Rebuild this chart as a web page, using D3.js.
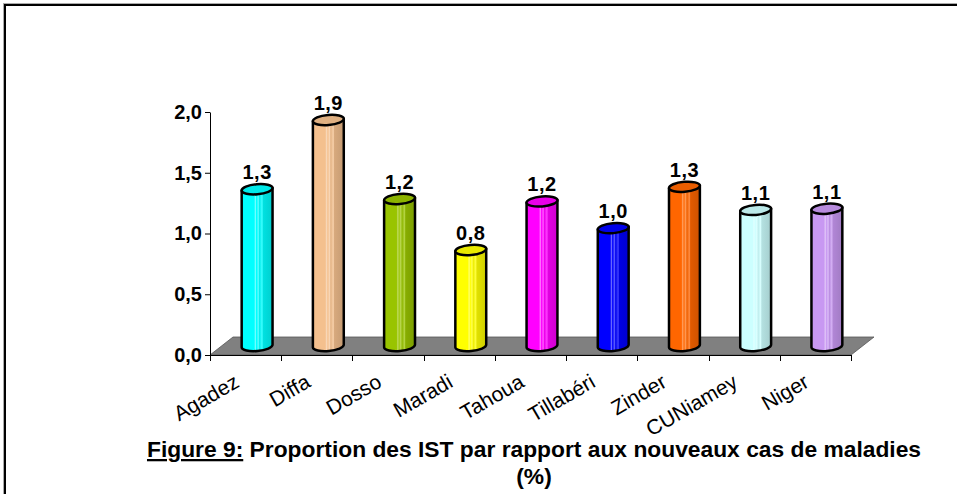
<!DOCTYPE html>
<html>
<head>
<meta charset="utf-8">
<script src="https://cdn.jsdelivr.net/npm/d3@7"></script>
<style>
  body { margin: 0; background: #fff; }
  text { font-family: Arial, "Liberation Sans", sans-serif; }
</style>
</head>
<body>
<div id="chart"></div>
<script>
// data
const regions = ["Agadez", "Diffa", "Dosso", "Maradi", "Tahoua", "Tillabéri", "Zinder", "CUNiamey", "Niger"];
const proportions = [1.29, 1.86, 1.21, 0.79, 1.19, 0.97, 1.31, 1.12, 1.13];
const yTicks = [0, 0.5, 1, 1.5, 2];
const barColors = ["#00ffff", "#f4c08e", "#99c400", "#ffff00", "#ff00ff", "#0000ff", "#ff6600", "#ccffff", "#c898f2"];

function chart() {
    const W = 957, H = 494;
    const svg = d3.select("#chart").append("svg")
        .attr("width", W)
        .attr("height", H);

    // frame
    svg.append("rect")
        .attr("x", 3.5).attr("y", 3.5)
        .attr("width", 1000).attr("height", 1000)
        .attr("fill", "none").attr("stroke", "#aaa").attr("stroke-width", 1);
    svg.append("rect")
        .attr("x", 5).attr("y", 5)
        .attr("width", 1000).attr("height", 1000)
        .attr("fill", "none").attr("stroke", "#000").attr("stroke-width", 2);

    const x = d3.scaleBand().domain(regions).range([210, 851]).padding(0);
    const y = d3.scaleLinear().domain([0, 2]).range([355, 112]);
    const depth = {dx: 23, dy: -18};
    const rx = 15.5, ry = 5, tilt = -5;
    const comma = v => d3.format(".1f")(v).replace(".", ",");

    const defs = svg.append("defs");
    barColors.forEach(function(c, i) {
        const base = d3.color(c);
        const light = d3.interpolateRgb(c, "#fff");
        const g = defs.append("linearGradient")
            .attr("id", "cyl" + i)
            .attr("x1", 0).attr("x2", 1).attr("y1", 0).attr("y2", 0);
        const stops = [
            [0, base],
            [0.4, base],
            [0.45, light(0.45)],
            [0.48, base],
            [0.54, light(0.35)],
            [0.58, base.darker(0.2)],
            [0.66, light(0.25)],
            [0.7, base.darker(0.35)],
            [1, base.darker(0.6)]
        ];
        stops.forEach(s => g.append("stop")
            .attr("offset", s[0])
            .attr("stop-color", s[1].toString()));
    });

    // floor
    const x0 = x.range()[0], x1 = x.range()[1], y0 = y(0);
    svg.append("polygon")
        .attr("points", [
            [x0, y0], [x1, y0], [x1 + depth.dx, y0 + depth.dy], [x0 + depth.dx, y0 + depth.dy]
        ].map(p => p.join(",")).join(" "))
        .attr("fill", "#808080")
        .attr("stroke", "#555")
        .attr("stroke-width", 0.8);

    // axes
    const axisY = d3.axisLeft(y).tickValues(yTicks).tickFormat(comma).tickSize(5).tickSizeOuter(0);
    const gy = svg.append("g")
        .attr("transform", `translate(${x0},0)`)
        .call(axisY);
    gy.select(".domain").attr("stroke", "#000");
    gy.selectAll("text")
        .attr("font-size", 20)
        .attr("font-weight", "bold")
        .attr("fill", "#000")
        .attr("x", -8)
        .attr("font-family", "Arial, 'Liberation Sans', sans-serif");

    const gx = svg.append("g");
    gx.append("line")
        .attr("x1", x0).attr("x2", x1)
        .attr("y1", y0 + 0.5).attr("y2", y0 + 0.5)
        .attr("stroke", "#000");
    const bounds = regions.map(r => x(r)).concat([x1]);
    gx.selectAll("line.tick")
        .data(bounds)
        .join("line")
        .attr("class", "tick")
        .attr("x1", d => Math.round(d) + 0.5).attr("x2", d => Math.round(d) + 0.5)
        .attr("y1", y0).attr("y2", y0 + 6)
        .attr("stroke", "#000");

    gx.selectAll("text.cat")
        .data(regions)
        .join("text")
        .attr("class", "cat")
        .attr("transform", d => `translate(${x(d) + x.bandwidth() / 2 - 5},${y0 + 31}) rotate(-30)`)
        .attr("text-anchor", "end")
        .attr("font-size", 21)
        .attr("fill", "#000")
        .text(d => d);

    // cylinders
    const ca = Math.cos(tilt * Math.PI / 180), sa = Math.sin(tilt * Math.PI / 180);
    const ex = rx * ca, ey = rx * sa;
    const bars = svg.append("g");
    regions.forEach(function(r, i) {
        const v = proportions[i];
        const cx = x(r) + x.bandwidth() / 2 + depth.dx / 2;
        const yb = y(0) + depth.dy / 2;
        const yt = y(v) + depth.dy / 2;
        const g = bars.append("g");
        const body = `M${cx - ex},${yt - ey} L${cx - ex},${yb - ey} ` +
            `A${rx},${ry} ${tilt} 0 0 ${cx + ex},${yb + ey} ` +
            `L${cx + ex},${yt + ey} Z`;
        g.append("path")
            .attr("d", body)
            .attr("fill", `url(#cyl${i})`)
            .attr("stroke", "#000")
            .attr("stroke-width", 2.5)
            .attr("stroke-linejoin", "round");
        g.append("ellipse")
            .attr("cx", cx).attr("cy", yt)
            .attr("rx", rx).attr("ry", ry)
            .attr("transform", `rotate(${tilt},${cx},${yt})`)
            .attr("fill", d3.color(barColors[i]).darker(0.25))
            .attr("stroke", "#000")
            .attr("stroke-width", 2.5);
        g.append("text")
            .attr("x", cx)
            .attr("y", yt - 10)
            .attr("text-anchor", "middle")
            .attr("font-size", 20)
            .attr("font-weight", "bold")
            .attr("letter-spacing", 0.5)
            .attr("fill", "#000")
            .text(comma(v));
    });

    // caption
    const cap = svg.append("text")
        .attr("x", 534)
        .attr("y", 457)
        .attr("text-anchor", "middle")
        .attr("font-size", 22.8)
        .attr("font-weight", "bold")
        .attr("fill", "#000");
    cap.append("tspan").attr("text-decoration", "underline").text("Figure 9:");
    cap.append("tspan").text(" Proportion des IST par rapport aux nouveaux cas de maladies");
    svg.append("text")
        .attr("x", 534)
        .attr("y", 484)
        .attr("text-anchor", "middle")
        .attr("font-size", 22.8)
        .attr("font-weight", "bold")
        .attr("fill", "#000")
        .text("(%)");
}
chart();
</script>
</body>
</html>
